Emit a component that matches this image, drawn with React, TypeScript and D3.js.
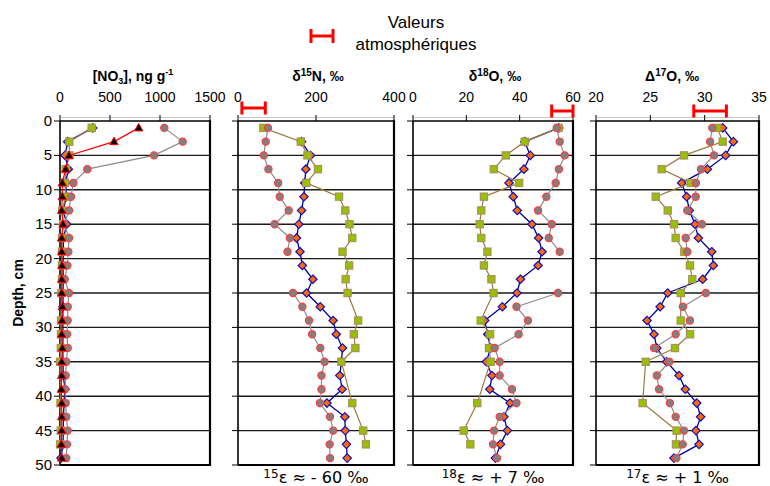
import React from "react";
import * as d3 from "d3";

const depths = [1, 3, 5, 7, 9, 11, 13, 15, 17, 19, 21, 23, 25, 27, 29, 31, 33, 35, 37, 39, 41, 43, 45, 47, 49];

// [NO3], ng g-1
const no3A = [1043, 1227, 940, 273, 133, 110, 90, 40, 90, 83, 73, 47, 90, 77, 77, 70, 77, 63, 57, 50, 57, 63, 77, 70, 63];
const no3B = [327, 77, 50, 83, 57, 63, 33, 67, 35, 33, 30, 33, 30, 30, 28, 30, 28, 30, 33, 50, 40, 35, 33, 30, 10];
const no3C = [317, 93, 93, 57, 50, 57, 23, 33, 20, 20, 20, 20, 15, null, 10, 10, 8, 2, null, null, 5, null, 8, 2, null];
const no3D = [787, 540, 90, 57, 23, 23, 17, 30, 17, 17, 20, 17, 17, 23, 20, 17, 23, 17, 17, 13, 17, 17, 17, 13, 17];

// d15N
const d15A = [77, 71, 66, 78, 103, 107, 130, 94, 133, 127, null, null, 141, 165, 182, 190, 211, 222, 214, 214, 210, 236, 244, 235, 236];
const d15B = [null, 163, 186, 174, 171, 169, 163, 156, 150, 159, 165, 192, 176, 211, 244, 252, 268, 265, 261, 267, 228, 274, 275, 278, 280];
const d15C = [65, 161, 178, 205, 175, 259, 275, 286, 293, 268, 285, 276, 281, null, 308, 297, 301, 265, null, null, 293, null, 321, 328, null];

// d18O
const d18A = [53.9, 55, 56.9, 54.7, 53.5, 50, 46.9, 52, 50.9, 55, null, null, 54.4, 38.8, 43.1, 39.6, 30.6, 32.5, 32.5, 37.1, 38.8, 32.5, 30.4, 30, 31.5];
const d18B = [54.7, 41.9, 44, 41.6, 36, 37.6, 39.1, 44.6, 47.1, 48.4, 46.9, 40.3, 39, 33.5, 26.9, 28, 29.1, 27.5, 29.6, 28.8, 36.4, 34.1, 35.4, 32.8, 30.9];
const d18C = [54.6, 41.9, 34.8, 30.3, 39.8, 26.6, 25.6, 25, 25.6, 27.9, 26.6, 29.4, 30.2, null, 25.4, 28.9, 28.5, 29.1, null, null, 24.1, null, 19, 21.5, null];

// D17O
const D17A = [30.7, 30.5, 30.86, 29.66, 29.2, 29.17, 28.4, 29.75, 28.25, 28.4, null, null, 30.1, 28, 28.65, 27.33, 25.34, 26.75, 25.6, 25.8, 26.8, 27.33, 28.1, 27.98, 27.4];
const D17B = [31.66, 32.64, 31.93, 30.25, 27.88, 28.34, 28.59, 29.11, 29.42, 30.65, 30.8, 29.82, 26.6, 25.9, 24.7, 25.34, 25.6, 26.5, 27.64, 28.22, 29.27, 29.63, 29.2, 29.48, 27.18];
const D17C = [31.17, 31.66, 28.1, 26.04, 28.74, 25.5, 26.6, 27.18, 27.33, 28.13, 28.65, 28.86, 27.8, null, 27.8, 28.65, 27.27, 24.57, null, null, 24.29, null, 27.42, 27.36, null];

const depthTicks = [0, 5, 10, 15, 20, 25, 30, 35, 40, 45, 50];
const gridDepths = [5, 10, 15, 20, 25, 30, 35, 40, 45];

const atmN15 = [10, 70];
const atmO18 = [52, 60];
const atmD17 = [29, 32];

const legendLines = ["Valeurs", "atmosphériques"];

type Panel = {
  domain: [number, number];
  range: [number, number];
  ticks: number[];
  title: React.ReactNode;
  titleX: number;
  A: (number | null)[];
  B: (number | null)[];
  C: (number | null)[];
  D?: (number | null)[];
  atm?: number[];
  atmY?: number;
  bottom?: React.ReactNode;
};

const y = d3.scaleLinear().domain([0, 50]).range([121, 465]);

const FONT = "'Liberation Sans', Arial, sans-serif";

function pts(vals: (number | null)[]) {
  return depths.map((d, i) => ({ d, v: vals[i] }));
}

function Diamond({ cx, cy }: { cx: number; cy: number }) {
  const s = 4.2;
  return (
    <path
      d={`M${cx},${cy - s}L${cx + s},${cy}L${cx},${cy + s}L${cx - s},${cy}Z`}
      fill="#ff6a00"
      stroke="#1010c0"
      strokeWidth={1.2}
    />
  );
}

function PanelView({ p }: { p: Panel }) {
  const x = d3.scaleLinear().domain(p.domain).range(p.range);
  const [x0, x1] = p.range;
  const gapLine = d3
    .line<{ d: number; v: number | null }>()
    .defined((q) => q.v !== null)
    .x((q) => x(q.v as number))
    .y((q) => y(q.d));
  const joinLine = (vals: (number | null)[]) =>
    gapLine(pts(vals).filter((q) => q.v !== null)) || "";
  const valid = (vals: (number | null)[]) => pts(vals).filter((q) => q.v !== null);

  return (
    <g>
      {gridDepths.map((g) => (
        <line key={g} x1={x0} x2={x1} y1={y(g)} y2={y(g)} stroke="#1a1a1a" strokeWidth={1.4} />
      ))}
      {depthTicks.map((t) => (
        <line key={t} x1={x0 - 6} x2={x0} y1={y(t)} y2={y(t)} stroke="#000" strokeWidth={1} />
      ))}
      <line x1={x0} x2={x1} y1={117.5} y2={117.5} stroke="#c8c8c8" strokeWidth={1} />
      {p.ticks.map((t) => (
        <g key={t}>
          <line x1={x(t)} x2={x(t)} y1={115} y2={121} stroke="#000" strokeWidth={1} />
          <text x={x(t)} y={102} textAnchor="middle" fontSize={14} fontFamily={FONT}>
            {t}
          </text>
        </g>
      ))}
      <line x1={x0} x2={x1} y1={y(0)} y2={y(0)} stroke="#000" strokeWidth={1.6} />
      <line x1={x0} x2={x0} y1={y(0)} y2={y(50)} stroke="#000" strokeWidth={1.6} />
      <line x1={x1} x2={x1} y1={y(0) - 0.8} y2={y(50) + 1} stroke="#000" strokeWidth={2.2} />
      <line x1={x0} x2={x1 + 1} y1={y(50)} y2={y(50)} stroke="#000" strokeWidth={2.2} />
      <path d={joinLine(p.B)} fill="none" stroke="#000099" strokeWidth={1.3} />
      {valid(p.B).map((q) => (
        <Diamond key={q.d} cx={x(q.v as number)} cy={y(q.d)} />
      ))}
      <path d={joinLine(p.C)} fill="none" stroke="#9c7a3c" strokeWidth={1.2} />
      {valid(p.C).map((q) => (
        <rect
          key={q.d}
          x={x(q.v as number) - 3.6}
          y={y(q.d) - 3.6}
          width={7.2}
          height={7.2}
          fill="#99c000"
          stroke="#a8915a"
          strokeWidth={1.2}
        />
      ))}
      <path d={gapLine(pts(p.A)) || ""} fill="none" stroke="#8c8c8c" strokeWidth={1.2} />
      {valid(p.A).map((q) => (
        <circle key={q.d} cx={x(q.v as number)} cy={y(q.d)} r={3.6} fill="#808080" stroke="#ff3c3c" strokeWidth={1.2} />
      ))}
      {p.D && (
        <>
          <path d={joinLine(p.D)} fill="none" stroke="#ff0000" strokeWidth={1.2} />
          {valid(p.D).map((q) => {
            const cx = x(q.v as number);
            const cy = y(q.d);
            return (
              <path
                key={q.d}
                d={`M${cx},${cy - 4.4}L${cx + 4.2},${cy + 3}L${cx - 4.2},${cy + 3}Z`}
                fill="#000"
                stroke="#ff0000"
                strokeWidth={1}
              />
            );
          })}
        </>
      )}
      {p.atm && (
        <g stroke="#ff0000" strokeWidth={3}>
          <line x1={x(p.atm[0])} x2={x(p.atm[1])} y1={p.atmY} y2={p.atmY} />
          <line x1={x(p.atm[0])} x2={x(p.atm[0])} y1={(p.atmY as number) - 6.5} y2={(p.atmY as number) + 6.5} />
          <line x1={x(p.atm[1])} x2={x(p.atm[1])} y1={(p.atmY as number) - 6.5} y2={(p.atmY as number) + 6.5} />
        </g>
      )}
      <text x={p.titleX} y={81} textAnchor="middle" fontSize={14} fontWeight="bold" fontFamily={FONT}>
        {p.title}
      </text>
      {p.bottom && (
        <text x={(x0 + x1) / 2} y={483} textAnchor="middle" fontSize={16} fontFamily="'DejaVu Sans', Verdana, sans-serif">
          {p.bottom}
        </text>
      )}
    </g>
  );
}

export default function App() {
  const panels: Panel[] = [
    {
      domain: [0, 1500],
      range: [60, 210],
      ticks: [0, 500, 1000, 1500],
      title: (
        <>
          [NO<tspan fontSize={9} dy={3}>3</tspan>
          <tspan dy={-3}>], ng g</tspan>
          <tspan fontSize={9} dy={-6}>-1</tspan>
        </>
      ),
      titleX: 133,
      A: no3A,
      B: no3B,
      C: no3C,
      D: no3D,
    },
    {
      domain: [0, 400],
      range: [238, 394],
      ticks: [0, 200, 400],
      title: (
        <>
          δ<tspan fontSize={10} dy={-5}>15</tspan>
          <tspan dy={5}>N, ‰</tspan>
        </>
      ),
      titleX: 318,
      A: d15A,
      B: d15B,
      C: d15C,
      atm: atmN15,
      atmY: 108,
      bottom: (
        <>
          <tspan fontSize={12} dy={-5}>15</tspan>
          <tspan dy={5}>ε ≈ - 60 ‰</tspan>
        </>
      ),
    },
    {
      domain: [0, 60],
      range: [413, 573],
      ticks: [0, 20, 40, 60],
      title: (
        <>
          δ<tspan fontSize={10} dy={-5}>18</tspan>
          <tspan dy={5}>O, ‰</tspan>
        </>
      ),
      titleX: 495,
      A: d18A,
      B: d18B,
      C: d18C,
      atm: atmO18,
      atmY: 111,
      bottom: (
        <>
          <tspan fontSize={12} dy={-5}>18</tspan>
          <tspan dy={5}>ε ≈ + 7 ‰</tspan>
        </>
      ),
    },
    {
      domain: [20, 35],
      range: [596, 759],
      ticks: [20, 25, 30, 35],
      title: (
        <>
          Δ<tspan fontSize={10} dy={-5}>17</tspan>
          <tspan dy={5}>O, ‰</tspan>
        </>
      ),
      titleX: 672,
      A: D17A,
      B: D17B,
      C: D17C,
      atm: atmD17,
      atmY: 111,
      bottom: (
        <>
          <tspan fontSize={12} dy={-5}>17</tspan>
          <tspan dy={5}>ε ≈ + 1 ‰</tspan>
        </>
      ),
    },
  ];

  return (
    <svg
      width={770}
      height={486}
      style={{ position: "absolute", left: 0, top: 0, background: "#fff" }}
    >
      <rect width={770} height={486} fill="#fff" />
      <g stroke="#ff0000" strokeWidth={3}>
        <line x1={311} x2={333} y1={36} y2={36} />
        <line x1={311} x2={311} y1={29} y2={43} />
        <line x1={333} x2={333} y1={29} y2={43} />
      </g>
      {legendLines.map((l, i) => (
        <text key={l} x={416} y={28 + i * 22} textAnchor="middle" fontSize={17} fontFamily={FONT}>
          {l}
        </text>
      ))}
      {depthTicks.map((t) => (
        <text key={t} x={52} y={y(t) + 5} textAnchor="end" fontSize={15} fontFamily={FONT}>
          {t}
        </text>
      ))}
      <text
        transform={`translate(23,${y(25)}) rotate(-90)`}
        textAnchor="middle"
        fontSize={14}
        fontWeight="bold"
        fontFamily={FONT}
      >
        Depth, cm
      </text>
      {panels.map((p, i) => (
        <PanelView key={i} p={p} />
      ))}
    </svg>
  );
}
